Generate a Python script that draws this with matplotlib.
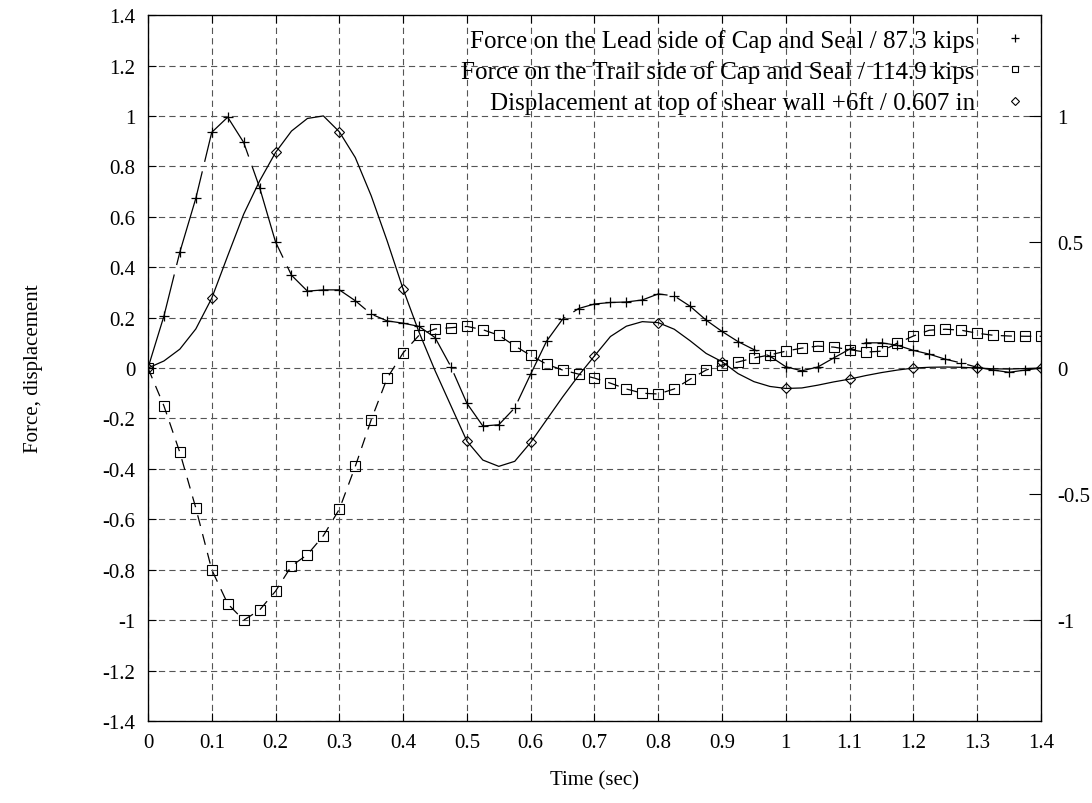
import matplotlib
matplotlib.use("Agg")
import matplotlib.pyplot as plt
import numpy as np

plt.rcParams['font.family'] = ['Liberation Serif', 'DejaVu Serif']
plt.rcParams['font.size'] = 15
plt.rcParams['axes.unicode_minus'] = False
plt.rcParams['lines.scale_dashes'] = False

# sample times (sec), every 0.025
t = [0.0, 0.025, 0.05, 0.075, 0.1, 0.125, 0.15, 0.175, 0.2, 0.225,
     0.25, 0.275, 0.3, 0.325, 0.35, 0.375, 0.4, 0.425, 0.45, 0.475,
     0.5, 0.525, 0.55, 0.575, 0.6, 0.625, 0.65, 0.675, 0.7, 0.725,
     0.75, 0.775, 0.8, 0.825, 0.85, 0.875, 0.9, 0.925, 0.95, 0.975,
     1.0, 1.025, 1.05, 1.075, 1.1, 1.125, 1.15, 1.175, 1.2, 1.225,
     1.25, 1.275, 1.3, 1.325, 1.35, 1.375, 1.4]

# normalised force on lead side (/ 87.3 kips)
lead = [0.0, 0.206, 0.46, 0.673, 0.935, 0.995, 0.895, 0.716, 0.50, 0.368,
        0.305, 0.31, 0.31, 0.267, 0.214, 0.187, 0.178, 0.165, 0.121, 0.005,
        -0.14, -0.23, -0.225, -0.158, -0.024, 0.107, 0.194, 0.236, 0.254, 0.26,
        0.262, 0.27, 0.294, 0.286, 0.245, 0.19, 0.145, 0.105, 0.073, 0.047,
        0.005, -0.011, 0.004, 0.04, 0.075, 0.1, 0.1, 0.09, 0.07, 0.055,
        0.035, 0.02, 0.003, -0.008, -0.017, -0.008, 0.0]

# normalised force on trail side (/ 114.9 kips)
trail = [0.0, -0.15, -0.335, -0.555, -0.80, -0.935, -1.0, -0.96, -0.885, -0.785,
         -0.74, -0.665, -0.56, -0.39, -0.205, -0.04, 0.06, 0.13, 0.155, 0.16,
         0.165, 0.152, 0.13, 0.088, 0.05, 0.015, -0.008, -0.024, -0.04, -0.06,
         -0.083, -0.1, -0.103, -0.083, -0.044, -0.008, 0.012, 0.024, 0.04, 0.052,
         0.067, 0.079, 0.087, 0.083, 0.073, 0.063, 0.067, 0.099, 0.127, 0.15,
         0.154, 0.15, 0.138, 0.13, 0.127, 0.126, 0.126]

# normalised displacement at top of shear wall (/ 0.607 in)
disp = [0.0, 0.028, 0.075, 0.155, 0.277, 0.445, 0.61, 0.742, 0.855, 0.94,
        0.99, 1.0, 0.937, 0.835, 0.683, 0.504, 0.313, 0.142, -0.01, -0.15,
        -0.29, -0.365, -0.39, -0.37, -0.295, -0.205, -0.115, -0.03, 0.048, 0.125,
        0.166, 0.184, 0.18, 0.154, 0.108, 0.058, 0.025, -0.022, -0.054, -0.073,
        -0.081, -0.079, -0.068, -0.055, -0.044, -0.03, -0.018, -0.008, 0.0, 0.003,
        0.004, 0.003, 0.0, -0.003, -0.004, -0.002, 0.0]

labels = ['Force on the Lead side of Cap and Seal / 87.3 kips',
          'Force on the Trail side of Cap and Seal / 114.9 kips',
          'Displacement at top of shear wall +6ft / 0.607 in']

xticks = [0, 0.1, 0.2, 0.3, 0.4, 0.5, 0.6, 0.7, 0.8, 0.9, 1.0, 1.1, 1.2, 1.3, 1.4]
yticks = [-1.4, -1.2, -1, -0.8, -0.6, -0.4, -0.2, 0, 0.2, 0.4, 0.6, 0.8, 1, 1.2, 1.4]
y2ticks = [-1, -0.5, 0, 0.5, 1]

fig = plt.figure(figsize=(10.92, 8.04), dpi=100)
ax = fig.add_axes([0.1355, 0.102, 0.8178, 0.878])

# curves
ax.plot(t, lead, color='black', lw=0.9, dashes=(70, 7))
ax.plot(t, trail, color='black', lw=0.9, dashes=(8, 6))
ax.plot(t, disp, color='black', lw=0.9)

# point symbols
p1, = ax.plot(t, lead, ls='none', marker='+', ms=7, mew=0.9, color='black')
p2, = ax.plot(t, trail, ls='none', marker='s', ms=6.5, mew=0.8,
              mfc='none', mec='black')
p3, = ax.plot(t[::4], disp[::4], ls='none', marker='D', ms=5.5, mew=0.8,
              mfc='none', mec='black')

ax.set_xlim(0, 1.4)
ax.set_ylim(-1.4, 1.4)
ax.set_xticks(xticks)
ax.set_xticklabels(['%g' % v for v in xticks])
ax.set_yticks(yticks)
ax.set_yticklabels(['%g' % v for v in yticks])
ax.tick_params(direction='in', length=6, width=0.8, top=True, right=True,
               pad=9)
ax.grid(True, color='#555555', lw=0.8, dashes=(4.5, 3))
ax.set_axisbelow(True)
for s in ax.spines.values():
    s.set_linewidth(0.9)

ax.set_xlabel('Time (sec)')
ax.xaxis.set_label_coords(0.5, -0.07)
ax.set_ylabel('Force, displacement')
ax.yaxis.set_label_coords(-0.118, 0.5)

ax2 = ax.twinx()
ax2.set_ylim(-1.4, 1.4)
ax2.set_yticks(y2ticks)
ax2.set_yticklabels(['%g' % v for v in y2ticks])
ax2.tick_params(direction='in', length=9, width=0.8, pad=12)

ax.legend([p1, p2, p3], labels, loc='upper right', frameon=False,
          markerfirst=False, handlelength=1.0, handletextpad=1.1,
          labelspacing=0.33, markerscale=0.75, borderaxespad=0.15,
          prop={'size': 18})

fig.savefig('out.png', dpi=100)
